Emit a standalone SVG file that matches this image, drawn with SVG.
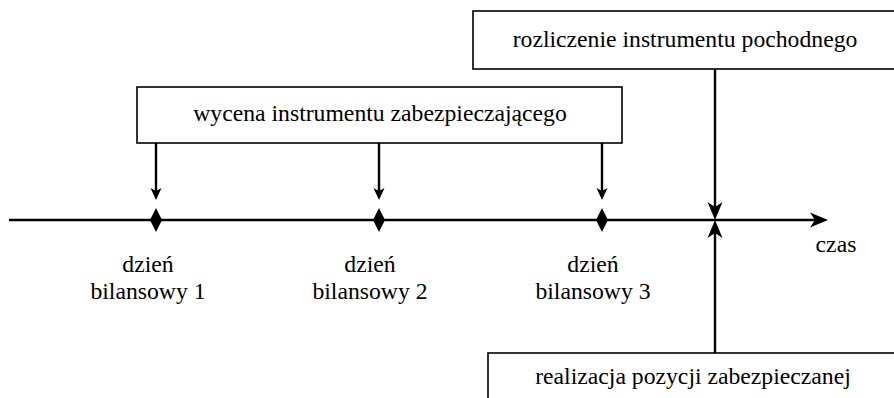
<svg xmlns="http://www.w3.org/2000/svg" width="894" height="398" viewBox="0 0 894 398">
<style>
.box{fill:#fff;stroke:#000;stroke-width:1.6}
.t{font-family:"Liberation Serif","Times New Roman",serif;font-size:23.7px;fill:#000;text-anchor:middle}
.ln{stroke:#000;stroke-width:2.4;fill:none}
.dm{fill:#000}
</style>
<defs>
<marker id="big" viewBox="0 -8 18 16" refX="5" refY="0" markerWidth="18" markerHeight="16" markerUnits="userSpaceOnUse" orient="auto">
<path d="M18,0 L0,-7.5 L5,0 L0,7.5 Z" fill="#000"/>
</marker>
<marker id="small" viewBox="0 -6 12 12" refX="3" refY="0" markerWidth="12" markerHeight="12" markerUnits="userSpaceOnUse" orient="auto">
<path d="M12,0 L0,-5.5 L3,0 L0,5.5 Z" fill="#000"/>
</marker>
</defs>
<g id="connectors">
<line class="ln" x1="9" y1="220" x2="815" y2="220" marker-end="url(#big)"/>
<line class="ln" x1="156" y1="143" x2="156" y2="191" marker-end="url(#small)"/>
<line class="ln" x1="379" y1="143" x2="379" y2="191" marker-end="url(#small)"/>
<line class="ln" x1="602" y1="143" x2="602" y2="191" marker-end="url(#small)"/>
<line class="ln" x1="715" y1="69" x2="715" y2="207" marker-end="url(#big)"/>
<line class="ln" x1="715" y1="353" x2="715" y2="233" marker-end="url(#big)"/>
</g>
<g id="box-wycena">
<rect class="box" x="137" y="87" width="485" height="56"/>
<text class="t" x="380" y="121">wycena instrumentu zabezpieczającego</text>
</g>
<g id="box-rozliczenie">
<rect class="box" x="473" y="11" width="440" height="58"/>
<text class="t" x="685" y="47">rozliczenie instrumentu pochodnego</text>
</g>
<g id="box-realizacja">
<rect class="box" x="488" y="353" width="430" height="60"/>
<text class="t" x="693" y="384">realizacja pozycji zabezpieczanej</text>
</g>
<g id="day1">
<polygon class="dm" points="156,208 162,220 156,232 150,220"/>
<text class="t" x="148" y="272">dzień</text>
<text class="t" x="148" y="299">bilansowy 1</text>
</g>
<g id="day2">
<polygon class="dm" points="379,208 385,220 379,232 373,220"/>
<text class="t" x="370" y="272">dzień</text>
<text class="t" x="370" y="299">bilansowy 2</text>
</g>
<g id="day3">
<polygon class="dm" points="602,208 608,220 602,232 596,220"/>
<text class="t" x="593" y="272">dzień</text>
<text class="t" x="593" y="299">bilansowy 3</text>
</g>
<g id="czas">
<text class="t" x="836" y="252">czas</text>
</g>
</svg>
